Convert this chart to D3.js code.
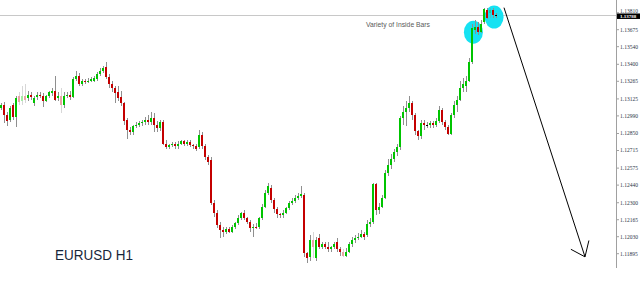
<!doctype html>
<html lang="en">
<head>
<meta charset="utf-8" />
<title>EURUSD H1</title>
<style>
    html, body { margin: 0; background: #fff; }
    svg { display: block; }
    .tick-label { font-family: "Liberation Serif", serif; font-size: 5.5px; fill: #2b3648; }
</style>
<script src="https://cdn.jsdelivr.net/npm/d3@7"></script>
</head>
<body>
<div id="chart"></div>
<script>
// H1 candles (oldest first)
const opens = [
  1.1305, 1.1308, 1.1300, 1.1296, 1.1308, 1.1298, 1.1315, 1.1311, 1.1315, 1.1313,
  1.1316, 1.1309, 1.1314, 1.1316, 1.1315, 1.1311, 1.1315, 1.1317, 1.1319, 1.1313,
  1.1315, 1.1308, 1.1315, 1.1316, 1.1314, 1.1328, 1.1331, 1.1324, 1.1327, 1.1326,
  1.1327, 1.1327, 1.1328, 1.1332, 1.1335, 1.1338, 1.1330, 1.1324, 1.1321, 1.1318,
  1.1314, 1.1309, 1.1296, 1.1288, 1.1286, 1.1291, 1.1292, 1.1293, 1.1294, 1.1296,
  1.1294, 1.1297, 1.1292, 1.1289, 1.1294, 1.1277, 1.1274, 1.1276, 1.1277, 1.1275,
  1.1277, 1.1279, 1.1277, 1.1278, 1.1276, 1.1275, 1.1274, 1.1284, 1.1275, 1.1266,
  1.1264, 1.1230, 1.1222, 1.1212, 1.1208, 1.1207, 1.1209, 1.1207, 1.1211, 1.1214,
  1.1218, 1.1222, 1.1218, 1.1215, 1.1210, 1.1211, 1.1211, 1.1218, 1.1227, 1.1238,
  1.1242, 1.1232, 1.1225, 1.1221, 1.1220, 1.1222, 1.1226, 1.1230, 1.1231, 1.1234,
  1.1235, 1.1236, 1.1190, 1.1187, 1.1200, 1.1186, 1.1202, 1.1195, 1.1197, 1.1195,
  1.1193, 1.1195, 1.1199, 1.1193, 1.1191, 1.1188, 1.1191, 1.1197, 1.1200, 1.1202,
  1.1203, 1.1205, 1.1204, 1.1213, 1.1215, 1.1245, 1.1224, 1.1227, 1.1234, 1.1254,
  1.1260, 1.1265, 1.1270, 1.1274, 1.1297, 1.1302, 1.1305, 1.1309, 1.1300, 1.1287,
  1.1283, 1.1293, 1.1292, 1.1292, 1.1293, 1.1292, 1.1295, 1.1304, 1.1294, 1.1290,
  1.1285, 1.1300, 1.1308, 1.1312, 1.1321, 1.1323, 1.1327, 1.1342, 1.1367, 1.1370,
  1.1366, 1.1374, 1.1383, 1.1381, 1.1383, 1.1379
];
const highs = [
  1.1309, 1.1310, 1.1302, 1.1307, 1.1309, 1.1315, 1.1318, 1.1323, 1.1324, 1.1319,
  1.1318, 1.1315, 1.1318, 1.1318, 1.1317, 1.1316, 1.1319, 1.1321, 1.1331, 1.1318,
  1.1321, 1.1318, 1.1318, 1.1319, 1.1330, 1.1335, 1.1333, 1.1328, 1.1328, 1.1329,
  1.1330, 1.1331, 1.1334, 1.1337, 1.1339, 1.1342, 1.1332, 1.1327, 1.1323, 1.1323,
  1.1319, 1.1310, 1.1297, 1.1290, 1.1292, 1.1294, 1.1295, 1.1296, 1.1298, 1.1300,
  1.1302, 1.1301, 1.1295, 1.1296, 1.1296, 1.1280, 1.1277, 1.1278, 1.1278, 1.1279,
  1.1280, 1.1280, 1.1280, 1.1280, 1.1277, 1.1277, 1.1288, 1.1286, 1.1277, 1.1268,
  1.1266, 1.1232, 1.1224, 1.1215, 1.1211, 1.1211, 1.1211, 1.1212, 1.1215, 1.1220,
  1.1223, 1.1224, 1.1219, 1.1216, 1.1213, 1.1214, 1.1219, 1.1229, 1.1240, 1.1246,
  1.1244, 1.1234, 1.1227, 1.1222, 1.1224, 1.1227, 1.1231, 1.1234, 1.1236, 1.1238,
  1.1243, 1.1238, 1.1191, 1.1204, 1.1207, 1.1203, 1.1205, 1.1199, 1.1199, 1.1199,
  1.1196, 1.1199, 1.1202, 1.1195, 1.1193, 1.1194, 1.1199, 1.1203, 1.1204, 1.1206,
  1.1208, 1.1207, 1.1216, 1.1218, 1.1246, 1.1246, 1.1230, 1.1236, 1.1256, 1.1265,
  1.1269, 1.1273, 1.1277, 1.1299, 1.1307, 1.1311, 1.1315, 1.1311, 1.1301, 1.1288,
  1.1296, 1.1296, 1.1294, 1.1295, 1.1295, 1.1297, 1.1307, 1.1305, 1.1296, 1.1292,
  1.1301, 1.1311, 1.1315, 1.1327, 1.1329, 1.1331, 1.1345, 1.1372, 1.1375, 1.1374,
  1.1375, 1.1385, 1.1385, 1.1385, 1.1385, 1.1381
];
const lows = [
  1.1304, 1.1293, 1.1291, 1.1294, 1.1296, 1.1290, 1.1308, 1.1308, 1.1309, 1.1311,
  1.1312, 1.1307, 1.1312, 1.1313, 1.1306, 1.1310, 1.1313, 1.1315, 1.1311, 1.1311,
  1.1301, 1.1305, 1.1313, 1.1312, 1.1313, 1.1327, 1.1323, 1.1323, 1.1324, 1.1325,
  1.1326, 1.1326, 1.1327, 1.1331, 1.1333, 1.1328, 1.1321, 1.1318, 1.1309, 1.1311,
  1.1307, 1.1292, 1.1281, 1.1284, 1.1284, 1.1289, 1.1290, 1.1291, 1.1292, 1.1292,
  1.1292, 1.1286, 1.1286, 1.1287, 1.1276, 1.1273, 1.1273, 1.1274, 1.1273, 1.1273,
  1.1276, 1.1275, 1.1275, 1.1274, 1.1273, 1.1271, 1.1273, 1.1273, 1.1264, 1.1260,
  1.1228, 1.1219, 1.1210, 1.1202, 1.1203, 1.1205, 1.1206, 1.1206, 1.1209, 1.1212,
  1.1216, 1.1216, 1.1213, 1.1207, 1.1203, 1.1209, 1.1209, 1.1216, 1.1226, 1.1236,
  1.1230, 1.1222, 1.1218, 1.1218, 1.1218, 1.1221, 1.1224, 1.1228, 1.1230, 1.1232,
  1.1234, 1.1187, 1.1182, 1.1184, 1.1186, 1.1184, 1.1193, 1.1193, 1.1193, 1.1191,
  1.1191, 1.1193, 1.1191, 1.1188, 1.1187, 1.1187, 1.1190, 1.1195, 1.1198, 1.1200,
  1.1202, 1.1200, 1.1203, 1.1211, 1.1213, 1.1220, 1.1221, 1.1226, 1.1233, 1.1251,
  1.1257, 1.1262, 1.1267, 1.1272, 1.1292, 1.1291, 1.1302, 1.1296, 1.1284, 1.1280,
  1.1281, 1.1288, 1.1289, 1.1289, 1.1289, 1.1290, 1.1293, 1.1292, 1.1288, 1.1284,
  1.1284, 1.1297, 1.1302, 1.1311, 1.1318, 1.1318, 1.1326, 1.1340, 1.1364, 1.1363,
  1.1365, 1.1372, 1.1376, 1.1377, 1.1377, 1.1377
];
const closes = [
  1.1308, 1.1300, 1.1295, 1.1305, 1.1298, 1.1313, 1.1310, 1.1315, 1.1312, 1.1316,
  1.1314, 1.1313, 1.1316, 1.1315, 1.1311, 1.1315, 1.1318, 1.1319, 1.1312, 1.1315,
  1.1308, 1.1315, 1.1316, 1.1314, 1.1328, 1.1331, 1.1324, 1.1327, 1.1326, 1.1327,
  1.1328, 1.1329, 1.1332, 1.1335, 1.1337, 1.1330, 1.1324, 1.1321, 1.1317, 1.1313,
  1.1309, 1.1295, 1.1288, 1.1286, 1.1291, 1.1292, 1.1293, 1.1294, 1.1296, 1.1294,
  1.1297, 1.1292, 1.1289, 1.1294, 1.1277, 1.1274, 1.1276, 1.1277, 1.1275, 1.1277,
  1.1279, 1.1277, 1.1278, 1.1276, 1.1275, 1.1273, 1.1284, 1.1275, 1.1266, 1.1262,
  1.1230, 1.1222, 1.1212, 1.1208, 1.1207, 1.1209, 1.1207, 1.1211, 1.1214, 1.1218,
  1.1222, 1.1218, 1.1215, 1.1210, 1.1211, 1.1210, 1.1218, 1.1227, 1.1238, 1.1243,
  1.1232, 1.1225, 1.1221, 1.1220, 1.1222, 1.1226, 1.1230, 1.1231, 1.1234, 1.1235,
  1.1237, 1.1190, 1.1186, 1.1200, 1.1195, 1.1200, 1.1195, 1.1197, 1.1195, 1.1193,
  1.1195, 1.1197, 1.1193, 1.1191, 1.1188, 1.1191, 1.1197, 1.1200, 1.1202, 1.1203,
  1.1205, 1.1203, 1.1213, 1.1215, 1.1245, 1.1224, 1.1227, 1.1234, 1.1254, 1.1260,
  1.1265, 1.1270, 1.1274, 1.1297, 1.1302, 1.1305, 1.1309, 1.1300, 1.1287, 1.1283,
  1.1293, 1.1292, 1.1292, 1.1293, 1.1292, 1.1295, 1.1304, 1.1294, 1.1290, 1.1285,
  1.1300, 1.1308, 1.1312, 1.1321, 1.1324, 1.1327, 1.1342, 1.1369, 1.1370, 1.1366,
  1.1372, 1.1384, 1.1377, 1.1383, 1.1379, 1.1379
];
// bars that look washed out in the screenshot
const fadedBars = [6, 7, 8, 20, 104, 114, 163];

const priceTicks = [1.13810, 1.13675, 1.13540, 1.13400, 1.13265, 1.13125, 1.12990,
  1.12850, 1.12715, 1.12575, 1.12440, 1.12300, 1.12165, 1.12030, 1.11895];
const bidPrice = 1.13788;

// markup drawn on the chart, in bar index / price
const circles = [
  { bar: 157.3, price: 1.13655 },
  { bar: 164.2, price: 1.13775 }
];
const arrowLine = [{ bar: 167.5, price: 1.1385 }, { bar: 194.5, price: 1.1187 }];
const arrowHead = [{ bar: 189.8, price: 1.1193 }, { bar: 194.5, price: 1.1187 }, { bar: 195.8, price: 1.1200 }];
const note = { bar: 121.5, price: 1.1370, text: "Variety of Inside Bars" };
const title = "EURUSD H1";

const width = 640, height = 297;
const plotRight = 616, plotBottom = 268;

const bars = closes.map((c, i) => ({
  i, o: opens[i], h: highs[i], l: lows[i], c, faded: fadedBars.includes(i)
}));

const x = d3.scaleLinear().domain([-0.5, 204.5]).range([0, plotRight - 1]);
const y = d3.scaleLinear().domain([1.11895, 1.13810]).range([253.7, 12.7]);

const svg = d3.select("#chart").append("svg")
    .attr("width", width)
    .attr("height", height);

svg.append("defs").append("clipPath").attr("id", "plot")
  .append("rect").attr("width", plotRight).attr("height", plotBottom);

const plot = svg.append("g").attr("clip-path", "url(#plot)");

// bid line
plot.append("line")
    .attr("x1", 0).attr("x2", plotRight)
    .attr("y1", Math.round(y(bidPrice)) + 0.5).attr("y2", Math.round(y(bidPrice)) + 0.5)
    .attr("stroke", "#c8c8c8");

// highlight circles sit behind the bars
plot.selectAll("ellipse")
  .data(circles)
  .join("ellipse")
    .attr("cx", d => x(d.bar))
    .attr("cy", d => y(d.price))
    .attr("rx", 9.5)
    .attr("ry", 11.5)
    .attr("fill", "#16e2f2");

const candle = plot.append("g")
    .attr("shape-rendering", "crispEdges")
  .selectAll("g")
  .data(bars)
  .join("g")
    .attr("opacity", d => d.faded ? 0.35 : 1);

candle.append("line")
    .attr("x1", d => Math.round(x(d.i) - 1.5) + 1.5)
    .attr("x2", d => Math.round(x(d.i) - 1.5) + 1.5)
    .attr("y1", d => y(d.h))
    .attr("y2", d => y(d.l))
    .attr("stroke", "#8f8f8f");

candle.append("rect")
    .attr("x", d => Math.round(x(d.i) - 1.5))
    .attr("y", d => y(Math.max(d.o, d.c)))
    .attr("width", 2)
    .attr("height", d => Math.max(1, Math.abs(y(d.o) - y(d.c))))
    .attr("fill", d => d.c > d.o ? "#00c400" : d.c < d.o ? "#c40000" : "#000");

// arrow
const line = d3.line().x(d => x(d.bar)).y(d => y(d.price));
svg.append("path")
    .attr("d", line(arrowLine))
    .attr("fill", "none")
    .attr("stroke", "#000");
svg.append("path")
    .attr("d", line(arrowHead))
    .attr("fill", "none")
    .attr("stroke", "#000");

// labels
svg.append("text")
    .attr("x", x(note.bar))
    .attr("y", y(note.price))
    .attr("font-family", "Liberation Sans, Arial, sans-serif")
    .attr("font-size", 6.5)
    .attr("textLength", 64)
    .attr("lengthAdjust", "spacingAndGlyphs")
    .attr("fill", "#5a5a5a")
    .text(note.text);

svg.append("text")
    .attr("x", 55)
    .attr("y", 260)
    .attr("font-family", "Liberation Sans, Arial, sans-serif")
    .attr("font-size", 15)
    .attr("textLength", 78)
    .attr("lengthAdjust", "spacingAndGlyphs")
    .attr("fill", "#16263a")
    .text(title);

// price scale
const axis = svg.append("g")
    .attr("transform", `translate(${plotRight},0)`);
axis.append("line")
    .attr("x1", 0.5).attr("x2", 0.5)
    .attr("y1", 0).attr("y2", plotBottom)
    .attr("stroke", "#a0a0a0");

const tick = axis.selectAll("g.tick")
  .data(priceTicks)
  .join("g")
    .attr("class", "tick")
    .attr("transform", d => `translate(0,${y(d)})`);
tick.append("line")
    .attr("x1", 0).attr("x2", 3)
    .attr("stroke", "#a0a0a0");
tick.append("text")
    .attr("class", "tick-label")
    .attr("x", 4)
    .attr("dy", (d, i) => i === 0 ? "0.1em" : "0.35em")
    .text(d => d3.format(".5f")(d));

// current price tag
const tag = axis.append("g")
    .attr("transform", `translate(0,${y(bidPrice)})`);
tag.append("rect")
    .attr("x", 1).attr("y", -2)
    .attr("width", 24).attr("height", 5.5)
    .attr("fill", "#000");
tag.append("text")
    .attr("class", "tick-label")
    .attr("x", 4)
    .attr("y", 0.8)
    .attr("dy", "0.35em")
    .style("fill", "#fff")
    .style("font-weight", "bold")
    .style("font-size", "5px")
    .text(d3.format(".5f")(bidPrice));
</script>
</body>
</html>
